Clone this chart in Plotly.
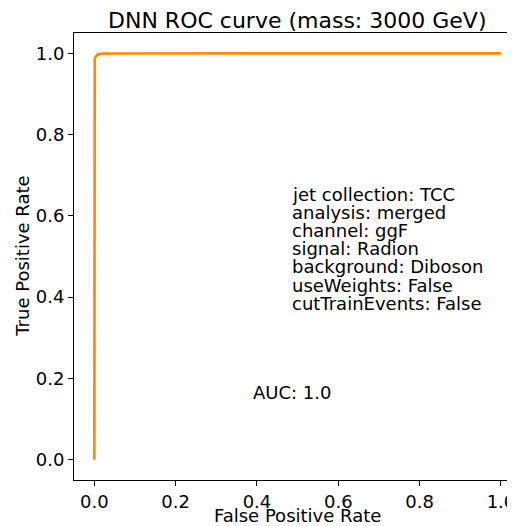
import plotly.graph_objects as go

# ROC curve values
fpr = [0.0, 0.0, 0.0, 0.0005, 0.001, 0.002, 0.004, 0.007, 0.012, 0.02, 0.05, 0.2, 0.5, 1.0]
tpr = [0.0, 0.90, 0.965, 0.978, 0.985, 0.990, 0.994, 0.996, 0.998, 0.999, 0.9995, 1.0, 1.0, 1.0]

title_text = "DNN ROC curve (mass: 3000 GeV)"
x_label = "False Positive Rate"
y_label = "True Positive Rate"
info_lines = [
    "jet collection: TCC",
    "analysis: merged",
    "channel: ggF",
    "signal: Radion",
    "background: Diboson",
    "useWeights: False",
    "cutTrainEvents: False",
]
auc_text = "AUC: 1.0"
tick_vals = [0.0, 0.2, 0.4, 0.6, 0.8, 1.0]
tick_text = ["0.0", "0.2", "0.4", "0.6", "0.8", "1.0"]

FONT = "DejaVu Sans"
OFF = 8  # page body margin
W, H = 515 - OFF, 526 - OFF
ML, MR, MT, MB = 74 - OFF, 0, 33 - OFF, 46
plot_h = H - MT - MB
plot_w = W - ML - MR
y_range = [-0.05, 1.05]
px_per_y = plot_h / (y_range[1] - y_range[0])

fig = go.Figure()
fig.add_trace(go.Scatter(x=fpr, y=tpr, mode="lines",
                         line=dict(color="#ff8c00", width=2.7),
                         showlegend=False, hoverinfo="skip"))

annotations = []
info_x = 0.48
info_top = 0.6376
line_step = 18.1 / px_per_y
fs_text = 18
for i, txt in enumerate(info_lines):
    annotations.append(dict(x=info_x, y=info_top - i * line_step, xref="x", yref="y",
                            text=txt, showarrow=False, xanchor="left", yanchor="middle",
                            yshift=6, font=dict(family=FONT, size=fs_text, color="black")))
annotations.append(dict(x=0.385, y=0.15, xref="x", yref="y", text=auc_text, showarrow=False,
                        xanchor="left", yanchor="middle", yshift=6,
                        font=dict(family=FONT, size=fs_text, color="black")))
# title (page centre y ~20)
annotations.append(dict(x=(298.5 - 74) / plot_w, y=1 + (33 - 20) / plot_h, xref="paper", yref="paper",
                        text=title_text, showarrow=False, xanchor="center", yanchor="middle",
                        font=dict(family=FONT, size=22, color="black")))
# axis titles
annotations.append(dict(x=(298.5 - 74) / plot_w, y=-(516 - 480) / plot_h, xref="paper", yref="paper",
                        text=x_label, showarrow=False, xanchor="center", yanchor="middle",
                        font=dict(family=FONT, size=18, color="black")))
annotations.append(dict(x=-(74 - 22) / plot_w, y=0.5, xref="paper", yref="paper",
                        text=y_label, showarrow=False, xanchor="center", yanchor="middle",
                        textangle=-90, font=dict(family=FONT, size=18, color="black")))

axis_common = dict(showgrid=False, zeroline=False, showline=True, linecolor="black",
                   linewidth=1, ticks="outside", ticklen=5, tickwidth=1, tickcolor="black",
                   tickvals=tick_vals, ticktext=tick_text, ticklabeloverflow="allow",
                   tickfont=dict(family=FONT, size=18, color="black"))

fig.update_layout(
    width=W, height=H,
    margin=dict(l=ML, r=MR, t=MT, b=MB, pad=0),
    paper_bgcolor="white", plot_bgcolor="white",
    xaxis=dict(range=[-0.05, 1.0296], mirror=True, **axis_common),
    yaxis=dict(range=y_range, mirror=False, **axis_common),
    annotations=annotations,
    showlegend=False,
)

fig.write_html("out.html")
